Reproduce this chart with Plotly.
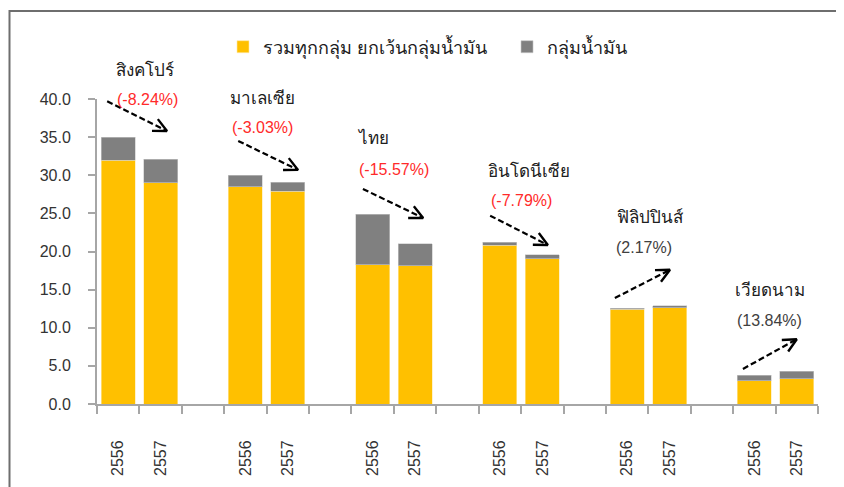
import plotly.graph_objects as go
import math

# ---- data ----
countries = ["สิงคโปร์", "มาเลเซีย", "ไทย", "อินโดนีเซีย", "ฟิลิปปินส์", "เวียดนาม"]
years = ["2556", "2557"]
non_oil = [[32.0, 29.0], [28.46, 27.93], [18.27, 18.14], [20.8, 19.06], [12.42, 12.63], [3.06, 3.32]]
oil = [[3.0, 3.12], [1.54, 1.16], [6.6, 2.86], [0.4, 0.49], [0.17, 0.23], [0.7, 0.96]]
changes = ["(-8.24%)", "(-3.03%)", "(-15.57%)", "(-7.79%)", "(2.17%)", "(13.84%)"]
change_colors = ["#ff2a2a", "#ff2a2a", "#ff2a2a", "#ff2a2a", "#404040", "#404040"]
series_names = ["รวมทุกกลุ่ม ยกเว้นกลุ่มน้ำมัน", "กลุ่มน้ำมัน"]

# ---- layout parameters (page body adds an 8px offset) ----
OFF = 8
W, H = 844 - OFF, 487 - OFF
ML, MT = 97 - OFF, 99 - OFF
PW, PH = 721, 305
MR, MB = W - ML - PW, H - MT - PH
XR = [-0.5, 16.5]
YR = [0, 40]

def to_px(x, y):
    return (ML + (x - XR[0]) / (XR[1] - XR[0]) * PW, MT + (YR[1] - y) / (YR[1] - YR[0]) * PH)

def to_data(px, py):
    return (XR[0] + (px - ML) / PW * (XR[1] - XR[0]), YR[1] - (py - MT) / PH * (YR[1] - YR[0]))

# annotation placement (data coordinates): name label, % label, arrow start, arrow tip
name_pos = [(0.63, 43.8), (3.41, 40.1), (6.0, 34.9), (9.69, 30.6), (12.54, 24.5), (15.37, 14.95)]
pct_pos = [(0.70, 39.9), (3.41, 36.3), (6.50, 30.8), (9.52, 26.75), (12.40, 20.46), (15.35, 11.0)]
arrow_from = [(-0.26, 39.7), (2.83, 34.5), (5.77, 28.2), (8.77, 24.7), (11.71, 13.9), (14.73, 4.6)]
arrow_to = [(1.15, 35.8), (4.24, 30.7), (7.19, 24.4), (10.13, 20.85), (13.01, 17.6), (16.0, 8.5)]

FONT = "'Liberation Sans', Arial, Tahoma, sans-serif"
YELLOW = "#FFC000"
GRAY = "#808080"
AXIS = "#a6a6a6"
THAI_SIZE = 17

xs, labels = [], []
for g in range(len(countries)):
    for j in range(len(years)):
        xs.append(g * 3 + j)
        labels.append(years[j])

fig = go.Figure()
fig.add_trace(go.Bar(x=xs, y=[v for pair in non_oil for v in pair], name=series_names[0] + "\u00a0\u00a0\u00a0",
                     marker=dict(color=YELLOW, line=dict(color="#ffe9a8", width=0.6))))
fig.add_trace(go.Bar(x=xs, y=[v for pair in oil for v in pair], name=series_names[1],
                     marker=dict(color=GRAY, line=dict(color="#c8c8c8", width=0.6))))

# arrows: dashed shaft + open V head
for (x0, y0), (x1, y1) in zip(arrow_from, arrow_to):
    fig.add_trace(go.Scatter(x=[x0, x1], y=[y0, y1], mode="lines", showlegend=False, hoverinfo="skip",
                             line=dict(color="black", width=2.2, dash="6px,3px")))
    p0 = to_px(x0, y0)
    p1 = to_px(x1, y1)
    ang = math.atan2(p0[1] - p1[1], p0[0] - p1[0])
    L, a = 15, math.radians(26)
    w1 = (p1[0] + L * math.cos(ang + a), p1[1] + L * math.sin(ang + a))
    w2 = (p1[0] + L * math.cos(ang - a), p1[1] + L * math.sin(ang - a))
    d1, d2 = to_data(*w1), to_data(*w2)
    fig.add_trace(go.Scatter(x=[d1[0], x1, d2[0]], y=[d1[1], y1, d2[1]], mode="lines", showlegend=False,
                             hoverinfo="skip", line=dict(color="black", width=2.4)))

span = YR[1] - YR[0]
annotations = []
for i in range(len(countries)):
    annotations.append(dict(x=name_pos[i][0], y=(name_pos[i][1] - YR[0]) / span, xref="x", yref="y domain",
                            xanchor="center", yanchor="middle", text=countries[i], showarrow=False,
                            font=dict(family=FONT, size=THAI_SIZE, color="#202020")))
    annotations.append(dict(x=pct_pos[i][0], y=(pct_pos[i][1] - YR[0]) / span, xref="x", yref="y domain",
                            xanchor="center", yanchor="middle", text=changes[i], showarrow=False,
                            font=dict(family=FONT, size=16, color=change_colors[i])))

fig.update_layout(
    width=W, height=H, autosize=False,
    margin=dict(l=ML, r=MR, t=MT, b=MB, autoexpand=False),
    paper_bgcolor="white", plot_bgcolor="white",
    barmode="stack", bargap=0.2,
    font=dict(family=FONT, size=16, color="#333333"),
    legend=dict(orientation="h", x=(428 - 97) / PW, xanchor="center", y=(MT + PH - (47 - OFF)) / PH,
                yanchor="middle", itemwidth=30,
                font=dict(family=FONT, size=18, color="#202020"), traceorder="normal"),
    annotations=annotations,
    shapes=[dict(type="rect", xref="paper", yref="paper",
                 x0=(9.5 - OFF - ML) / PW, x1=(W + 20 - ML) / PW,
                 y0=-(H + 20 - MT - PH) / PH, y1=(MT + PH - (11 - OFF)) / PH,
                 line=dict(color="#6e6e6e", width=2), layer="below")],
    xaxis=dict(range=XR, tickvals=xs, ticktext=labels, tickangle=-90, ticks="", showgrid=False,
               zeroline=False, showline=True, linecolor=AXIS, linewidth=2, ticklabelstandoff=28,
               automargin=False, tickfont=dict(family=FONT, size=16, color="#333333"),
               minor=dict(tick0=-0.5, dtick=1, ticks="outside", ticklen=8, tickcolor=AXIS, tickwidth=2)),
    yaxis=dict(range=YR, dtick=5, tickformat=".1f", ticks="outside", ticklen=7, tickcolor=AXIS, tickwidth=2,
               showgrid=False, zeroline=False, showline=True, linecolor=AXIS, linewidth=2, automargin=False,
               ticklabelstandoff=14, tickfont=dict(family=FONT, size=16, color="#333333")),
)

fig.write_html("out.html")
